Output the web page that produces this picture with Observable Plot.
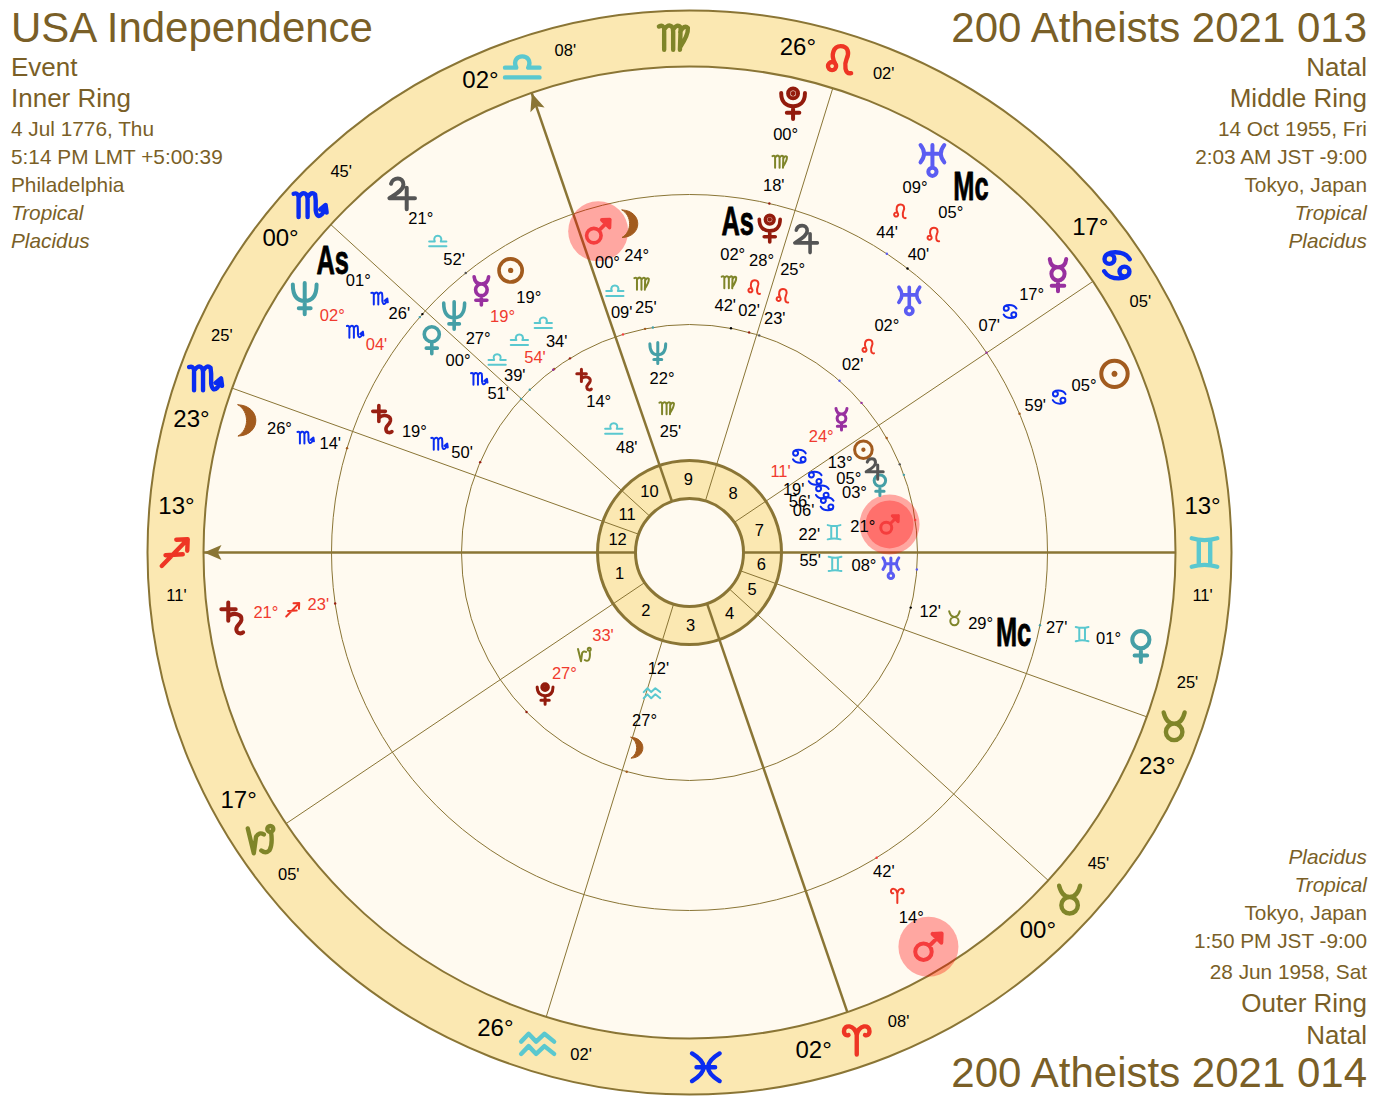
<!DOCTYPE html>
<html>
<head>
<meta charset="utf-8">
<script src="https://cdn.jsdelivr.net/npm/d3@7"></script>
<script src="https://cdn.jsdelivr.net/npm/@observablehq/plot@0.6"></script>
<style>
html,body{margin:0;padding:0;background:#fff;}
#wrap{position:relative;width:1374px;height:1108px;overflow:hidden;font-family:"Liberation Sans",Arial,sans-serif;color:#7a5f27;}
.t{position:absolute;white-space:nowrap;line-height:1;transform:translateY(-50%);}
.l{left:11px;} .r{right:7px;text-align:right;}
.i{font-style:italic;}
</style>
</head>
<body>
<div id="wrap"><div id="chart"></div></div>
<script>
// ---- Chart data ----
const signNames = ["Aries","Taurus","Gemini","Cancer","Leo","Virgo","Libra","Scorpio","Sagittarius","Capricorn","Aquarius","Pisces"];
const signColors = ["#ee3524","#7f8529","#5ac8cf","#0a2cf0"]; // fire, earth, air, water

// house cusps 1..12
const cuspSigns = ["Sagittarius","Capricorn","Aquarius","Aries","Taurus","Taurus","Gemini","Cancer","Leo","Libra","Scorpio","Scorpio"];
const cuspDegrees = [13,17,26,2,0,23,13,17,26,2,0,23];
const cuspMinutes = [11,5,2,8,45,25,11,5,2,8,45,25];
const interceptedSigns = ["Virgo","Pisces"];

const planetNames = ["Sun","Moon","Mercury","Venus","Mars","Jupiter","Saturn","Uranus","Neptune","Pluto"];
const planetColors = {Sun:"#a25b1e",Moon:"#a25b1e",Mercury:"#98309f",Venus:"#459fa6",Mars:"#f53d3d",Jupiter:"#555555",Saturn:"#991f12",Uranus:"#5b5cf2",Neptune:"#459fa6",Pluto:"#931b0c",As:"#000000",Mc:"#000000"};

// outer ring
const outerBodies  = ["Mars","Venus","Saturn","Moon","As","Neptune","Jupiter","Mercury","Sun","Uranus","Mc","Pluto"];
const outerSigns   = ["Aries","Gemini","Sagittarius","Scorpio","Scorpio","Scorpio","Libra","Cancer","Cancer","Leo","Leo","Virgo"];
const outerDegrees = [14,1,21,26,1,2,21,17,5,9,5,0];
const outerMinutes = [42,27,23,14,26,4,52,7,59,44,40,18];
const outerShift   = [-0.3,0,0,0.3,2.45,7.7,0.2,3,0,1.65,-0.1,-0.1];
const outerRetro   = ["Saturn","Neptune"];

// middle ring
const middleBodies  = ["Sun","Mercury","Neptune","Venus","Saturn","Moon","Mars","As","Pluto","Jupiter","Uranus","Mc"];
const middleSigns   = ["Libra","Libra","Libra","Scorpio","Scorpio","Virgo","Libra","Virgo","Leo","Leo","Leo","Taurus"];
const middleDegrees = [19,19,27,0,19,24,0,2,28,25,2,29];
const middleMinutes = [34,54,39,51,50,25,9,42,2,23,2,12];
const middleShift   = [-4,1.83,0.33,2.83,-0.15,-1.1,-1.1,2.2,1.25,-2.3,0,0];
const middleRetro   = ["Mercury"];

// inner ring
const innerBodies  = ["Sun","Moon","Mercury","Venus","Mars","Jupiter","Saturn","Uranus","Neptune","Pluto"];
const innerSigns   = ["Cancer","Aquarius","Cancer","Cancer","Gemini","Cancer","Libra","Gemini","Virgo","Capricorn"];
const innerDegrees = [13,27,24,3,21,5,14,8,22,27];
const innerMinutes = [19,12,11,6,22,56,48,55,25,33];
const innerShift   = [0.45,1.08,0.2,-0.4,-0.2,1.75,-0.37,-0.23,-0.2,0];
const innerRetro   = ["Mercury","Pluto"];

// ---- Symbol shapes: M/L/Q/C path tokens, O = circle, in half-height units ----
function glyph(d){
  const toks=[...d.matchAll(/([MLQCO])([^MLQCO]*)/g)].map(m=>[m[1],m[2].trim().split(/[\s,]+/).map(Number)]);
  return {draw(ctx,size){
    const k=Math.sqrt(size/Math.PI);
    for(const [c,a] of toks){
      const v=a.map(x=>x*k);
      if(c==="M")ctx.moveTo(v[0],v[1]);
      else if(c==="L")ctx.lineTo(v[0],v[1]);
      else if(c==="Q")ctx.quadraticCurveTo(v[0],v[1],v[2],v[3]);
      else if(c==="C")ctx.bezierCurveTo(v[0],v[1],v[2],v[3],v[4],v[5]);
      else if(c==="O"){ctx.moveTo(v[0]+v[2],v[1]);ctx.arc(v[0],v[1],v[2],0,2*Math.PI);}
    }
  }};
}
const planetShapes={
  Sun:glyph("O0,0,.8 O0,0,.06"),
  Moon:glyph("M-.6,-.95 C.85,-.9 .85,.9 -.6,.95 C.1,.55 .1,-.55 -.6,-.95"),
  Mercury:glyph("O0,-.1,.4 M-.5,-1 Q-.45,-.5 0,-.5 Q.45,-.5 .5,-1 M0,.3 L0,.95 M-.38,.62 L.38,.62"),
  Venus:glyph("O0,-.4,.52 M0,.12 L0,.95 M-.38,.56 L.38,.56"),
  Mars:glyph("O-.3,.3,.5 M.06,-.06 L.8,-.8 M.25,-.78 L.8,-.8 L.78,-.25 L.25,-.78"),
  Jupiter:glyph("M-.55,-.6 C-.45,-1 .2,-1.05 .2,-.55 C.2,-.2 -.3,.05 -.65,.28 L.9,.28 M.4,-.35 L.4,.95"),
  Saturn:glyph("M-.3,-.95 L-.3,.15 M-.72,-.55 L.15,-.55 M-.3,-.1 C0,-.4 .55,-.25 .5,.1 C.45,.4 .1,.45 .2,.75 C.25,.95 .5,.95 .6,.85"),
  Uranus:glyph("M-.72,-.95 Q-.3,-.42 -.72,.1 M.72,-.95 Q.3,-.42 .72,.1 M-.45,-.42 L.45,-.42 M0,-.95 L0,.4 O0,.67,.25"),
  Neptune:glyph("M-.72,-.85 C-.72,-.1 -.4,.15 0,.15 C.4,.15 .72,-.1 .72,-.85 M0,-.95 L0,.95 M-.36,.58 L.36,.58"),
  Pluto:glyph("M-.72,-.62 C-.72,-.05 -.4,.18 0,.18 C.4,.18 .72,-.05 .72,-.62 O0,-.6,.3 O0,-.6,.03 M0,.18 L0,.95 M-.38,.58 L.38,.58")
};
const signShapes={
  Aries:glyph("M0,1 L0,-.3 M0,-.3 C-.15,-1 -.85,-1.05 -.85,-.55 C-.85,-.3 -.65,-.25 -.55,-.3 M0,-.3 C.15,-1 .85,-1.05 .85,-.55 C.85,-.3 .65,-.25 .55,-.3"),
  Taurus:glyph("O0,.35,.55 M-.7,-.95 C-.55,-.35 -.3,-.2 0,-.2 C.3,-.2 .55,-.35 .7,-.95"),
  Gemini:glyph("M-.85,-.95 Q0,-.7 .85,-.95 M-.85,.95 Q0,.7 .85,.95 M-.38,-.82 L-.38,.82 M.38,-.82 L.38,.82"),
  Cancer:glyph("O-.5,-.42,.33 M-.83,-.42 C-.83,-1 .5,-1.05 .85,-.4 O.5,.42,.33 M.83,.42 C.83,1 -.5,1.05 -.85,.4"),
  Leo:glyph("O-.62,.38,.27 M-.42,.2 C-.75,-.4 -.5,-.95 -.05,-.95 C.45,-.95 .55,-.5 .35,-.1 C.2,.25 .2,.95 .65,.85"),
  Virgo:glyph("M-.95,-.75 Q-.65,-.9 -.6,-.6 L-.6,.8 M-.6,-.55 Q-.35,-.95 -.1,-.75 Q0,-.65 0,-.4 L0,.8 M0,-.55 Q.25,-.95 .5,-.7 L.45,.8 M.47,-.4 Q.75,-.9 .98,-.65 Q1.02,-.2 .45,.65"),
  Libra:glyph("M-1.15,.8 L1.15,.8 M-1.15,.15 L-.4,.15 C-.85,-.85 .85,-.85 .4,.15 L1.15,.15"),
  Scorpio:glyph("M-1.05,-.75 Q-.78,-.85 -.72,-.55 L-.72,.8 M-.72,-.5 Q-.45,-.95 -.2,-.7 Q-.12,-.55 -.12,-.4 L-.12,.8 M-.12,-.5 Q.13,-.95 .38,-.7 L.42,-.3 L.42,.35 Q.5,.95 .85,.6 Q1.02,.42 1.05,.1 M.72,.3 L1.08,0 L1.15,.5"),
  Sagittarius:glyph("M-.85,.9 L.88,-.88 M.12,-.85 L.88,-.88 L.85,-.12 M-.6,.18 L.55,.12"),
  Capricorn:glyph("M-.95,-.75 L-.55,.9 L-.4,-.2 Q-.2,-.55 .12,-.35 O.55,-.72,.2 M.6,-.52 Q.72,.3 .5,.7 Q.25,.95 -.05,.72"),
  Aquarius:glyph("M-1.1,-.2 L-.6,-.72 L-.1,-.2 L.45,-.72 L1.1,-.2 M-1.1,.62 L-.6,.1 L-.1,.62 L.45,.1 L1.1,.62"),
  Pisces:glyph("M-.92,-.92 Q.62,0 -.92,.92 M.92,-.92 Q-.62,0 .92,.92 M-.62,0 L.62,0")
};

// ---- Helpers ----
const pad = n => String(n).padStart(2,"0");
const lonOf = (sign,deg,min) => signNames.indexOf(sign)*30 + deg + min/60;
const signColor = s => signColors[signNames.indexOf(s)%4];
const ascLon = lonOf(cuspSigns[0],cuspDegrees[0],cuspMinutes[0]);
const theta = lon => (lon-ascLon)*Math.PI/180;
const px = (lon,r) => -r*Math.cos(theta(lon));
const py = (lon,r) =>  r*Math.sin(theta(lon));

const R = {outer:542,rim:486,mid:358,inn:228,hub:92,core:54,rimText:515,house:73};
const ringRadii = {
  outer:{glyph:461,deg:428,sign:401,min:375,tick:R.mid,size:16.5,sw:4},
  middle:{glyph:334,deg:300,sign:273,min:248,tick:R.inn,size:14.5,sw:3.6},
  inner:{glyph:202,deg:175,sign:146,min:121,tick:R.inn,size:11,sw:3}
};
function buildRing(ring,bodies,signs,degs,mins,shift,retro){
  return bodies.map((b,i)=>{
    const lon=lonOf(signs[i],degs[i],mins[i]);
    return {ring,body:b,sign:signs[i],deg:degs[i],min:mins[i],lon,show:lon+shift[i],retro:retro.includes(b),rr:ringRadii[ring]};
  });
}
const bodies=[
  ...buildRing("outer",outerBodies,outerSigns,outerDegrees,outerMinutes,outerShift,outerRetro),
  ...buildRing("middle",middleBodies,middleSigns,middleDegrees,middleMinutes,middleShift,middleRetro),
  ...buildRing("inner",innerBodies,innerSigns,innerDegrees,innerMinutes,innerShift,innerRetro)
];
const cusps=cuspSigns.map((s,i)=>({n:i+1,sign:s,deg:cuspDegrees[i],min:cuspMinutes[i],lon:lonOf(s,cuspDegrees[i],cuspMinutes[i]),angle:i%3===0}));
const rimSigns=[...cusps,...interceptedSigns.map(s=>({sign:s,lon:signNames.indexOf(s)*30+15}))];
const houses=cusps.map((c,i)=>{
  const next=cusps[(i+1)%12].lon;
  const span=((next-c.lon)%360+360)%360;
  return {n:c.n,lon:c.lon+span/2};
});
const rimSide=c=>c.n<=6?-5:5;

const line="#8a7535";
const rimFill="#fbe8b2";
const plate="#fffaf0";
const arrowSymbol=glyph("M0,-.95 L.75,.8 L0,.42 L-.75,.8 L0,-.95");

const bodyText=(filter,opts)=>Plot.text(bodies.filter(filter),opts);
const glyphX=d=>px(d.show,d.rr.glyph), glyphY=d=>py(d.show,d.rr.glyph);
const marsBodies=bodies.filter(d=>d.body==="Mars");
const numFont="Liberation Sans";
const center={x:()=>0,y:()=>0,r:d=>d};

const planetMarks=planetNames.map(name=>Plot.dot(bodies.filter(d=>d.body===name),{
  x:glyphX,y:glyphY,r:d=>d.rr.size,symbol:planetShapes[name],
  fill:name==="Moon"?planetColors[name]:"none",stroke:planetColors[name],strokeWidth:d=>name==="Moon"?1:d.rr.sw,
  strokeLinecap:"round",strokeLinejoin:"round"
}));
const rimSignMarks=signNames.map(name=>Plot.dot(rimSigns.filter(d=>d.sign===name),{
  x:d=>px(d.lon,R.rimText),y:d=>py(d.lon,R.rimText),r:()=>15,symbol:signShapes[name],
  fill:"none",stroke:signColor(name),strokeWidth:4.4,strokeLinecap:"round",strokeLinejoin:"round"
}));
const ringSignMarks=signNames.map(name=>Plot.dot(bodies.filter(d=>d.sign===name),{
  x:d=>px(d.show,d.rr.sign),y:d=>py(d.show,d.rr.sign),r:()=>7.5,symbol:signShapes[name],
  fill:"none",stroke:signColor(name),strokeWidth:2,strokeLinecap:"round",strokeLinejoin:"round"
}));

const chart=Plot.plot({
  width:1374,height:1108,margin:0,
  x:{domain:[-689,685],range:[0,1374],axis:null},
  y:{domain:[-552,556],range:[0,1108],axis:null},
  r:{type:"identity"},
  style:{background:"transparent",overflow:"visible"},
  marks:[
    // wheel plates
    Plot.dot([R.outer],{...center,fill:rimFill,stroke:line,strokeWidth:2}),
    Plot.dot([R.rim],{...center,fill:plate,stroke:line,strokeWidth:2}),
    Plot.dot([R.mid,R.inn],{...center,fill:"none",stroke:line,strokeWidth:1}),
    Plot.dot([R.hub],{...center,fill:rimFill,stroke:line,strokeWidth:3}),
    Plot.dot([R.core],{...center,fill:plate,stroke:line,strokeWidth:3}),
    // house cusps
    Plot.link(cusps,{
      x1:d=>px(d.lon,R.core),y1:d=>py(d.lon,R.core),
      x2:d=>px(d.lon,R.rim),y2:d=>py(d.lon,R.rim),
      stroke:line,strokeWidth:d=>d.angle?2.5:1
    }),
    Plot.dot(cusps.filter(d=>d.n===1||d.n===10),{
      x:d=>px(d.lon,R.rim-10),y:d=>py(d.lon,R.rim-10),
      symbol:arrowSymbol,r:()=>10,fill:line,stroke:"none",
      rotate:d=>-90-(d.lon-ascLon)
    }),
    Plot.text(houses,{x:d=>px(d.lon,R.house),y:d=>py(d.lon,R.house),text:d=>String(d.n),fontFamily:numFont,fontSize:16.5,fill:"#000"}),
    // rim
    rimSignMarks,
    Plot.text(cusps,{x:d=>px(d.lon+rimSide(d),R.rimText),y:d=>py(d.lon+rimSide(d),R.rimText),dy:-1.5,text:d=>pad(d.deg)+"°",fill:"#000",fontFamily:numFont,fontSize:24}),
    Plot.text(cusps,{x:d=>px(d.lon-rimSide(d),R.rimText),y:d=>py(d.lon-rimSide(d),R.rimText),dy:-1.5,text:d=>pad(d.min)+"'",fill:"#000",fontFamily:numFont,fontSize:16.5}),
    // Mars highlights
    Plot.dot(marsBodies,{x:glyphX,y:glyphY,r:()=>30,fill:"#ff0000",fillOpacity:0.33}),
    Plot.dot(marsBodies.filter(d=>d.ring==="inner"),{x:glyphX,y:glyphY,r:()=>24,fill:"#ff0000",fillOpacity:0.33}),
    // position ticks
    Plot.dot(bodies,{x:d=>px(d.lon,d.rr.tick),y:d=>py(d.lon,d.rr.tick),r:()=>1.2,fill:d=>planetColors[d.body]}),
    // planet glyphs
    planetMarks,
    bodyText(d=>d.body==="As"||d.body==="Mc",{x:glyphX,y:glyphY,text:d=>d.body,fill:"#000",stroke:"#000",strokeWidth:0.8,fontFamily:numFont,fontWeight:"bold",fontSize:41}),
    // degree, sign, minute stacks
    bodyText(()=>true,{x:d=>px(d.show,d.rr.deg),y:d=>py(d.show,d.rr.deg),dy:-1,text:d=>pad(d.deg)+"°",fill:d=>d.retro?"#f03a2e":"#000",fontFamily:numFont,fontSize:16.5}),
    ringSignMarks,
    bodyText(()=>true,{x:d=>px(d.show,d.rr.min),y:d=>py(d.show,d.rr.min),dy:-1,text:d=>pad(d.min)+"'",fill:d=>d.retro?"#f03a2e":"#000",fontFamily:numFont,fontSize:16.5})
  ]
});
chart.style.display="block";
document.getElementById("chart").appendChild(chart);
// As and Mc are set in a condensed cut
chart.querySelectorAll("text").forEach(el=>{
  const s=el.textContent.trim();
  if(s!=="As"&&s!=="Mc")return;
  const tr=el.getAttribute("transform");
  if(tr){el.setAttribute("transform",tr+" scale(0.62,1)");}
  else{
    const x=el.getAttribute("x")||0,y=el.getAttribute("y")||0;
    el.removeAttribute("x");el.removeAttribute("y");
    el.setAttribute("transform",`translate(${x},${y}) scale(0.62,1)`);
  }
});

// ---- Corner captions ----
const captions=[
 ["USA Independence","l",28,42,""],["Event","l",67,26,""],["Inner Ring","l",98,26,""],["4 Jul 1776, Thu","l",129,20.8,""],
 ["5:14 PM LMT +5:00:39","l",157,20.8,""],["Philadelphia","l",185,20.8,""],["Tropical","l",213,20.8,"i"],["Placidus","l",241,20.8,"i"],
 ["200 Atheists 2021 013","r",28,42,""],["Natal","r",67,26,""],["Middle Ring","r",98,26,""],["14 Oct 1955, Fri","r",129,20.8,""],
 ["2:03 AM JST -9:00","r",157,20.8,""],["Tokyo, Japan","r",185,20.8,""],["Tropical","r",213,20.8,"i"],["Placidus","r",241,20.8,"i"],
 ["Placidus","r",857,20.8,"i"],["Tropical","r",885,20.8,"i"],["Tokyo, Japan","r",913,20.8,""],["1:50 PM JST -9:00","r",941,20.8,""],
 ["28 Jun 1958, Sat","r",972,20.8,""],["Outer Ring","r",1003,26,""],["Natal","r",1035,26,""],["200 Atheists 2021 014","r",1073,42,""]
];
const wrap=document.getElementById("wrap");
for(const [txt,side,y,size,cls] of captions){
  const el=document.createElement("div");
  el.className="t "+side+" "+cls;
  el.textContent=txt;
  el.style.top=y+"px";
  el.style.fontSize=size+"px";
  wrap.appendChild(el);
}
</script>
</body>
</html>
